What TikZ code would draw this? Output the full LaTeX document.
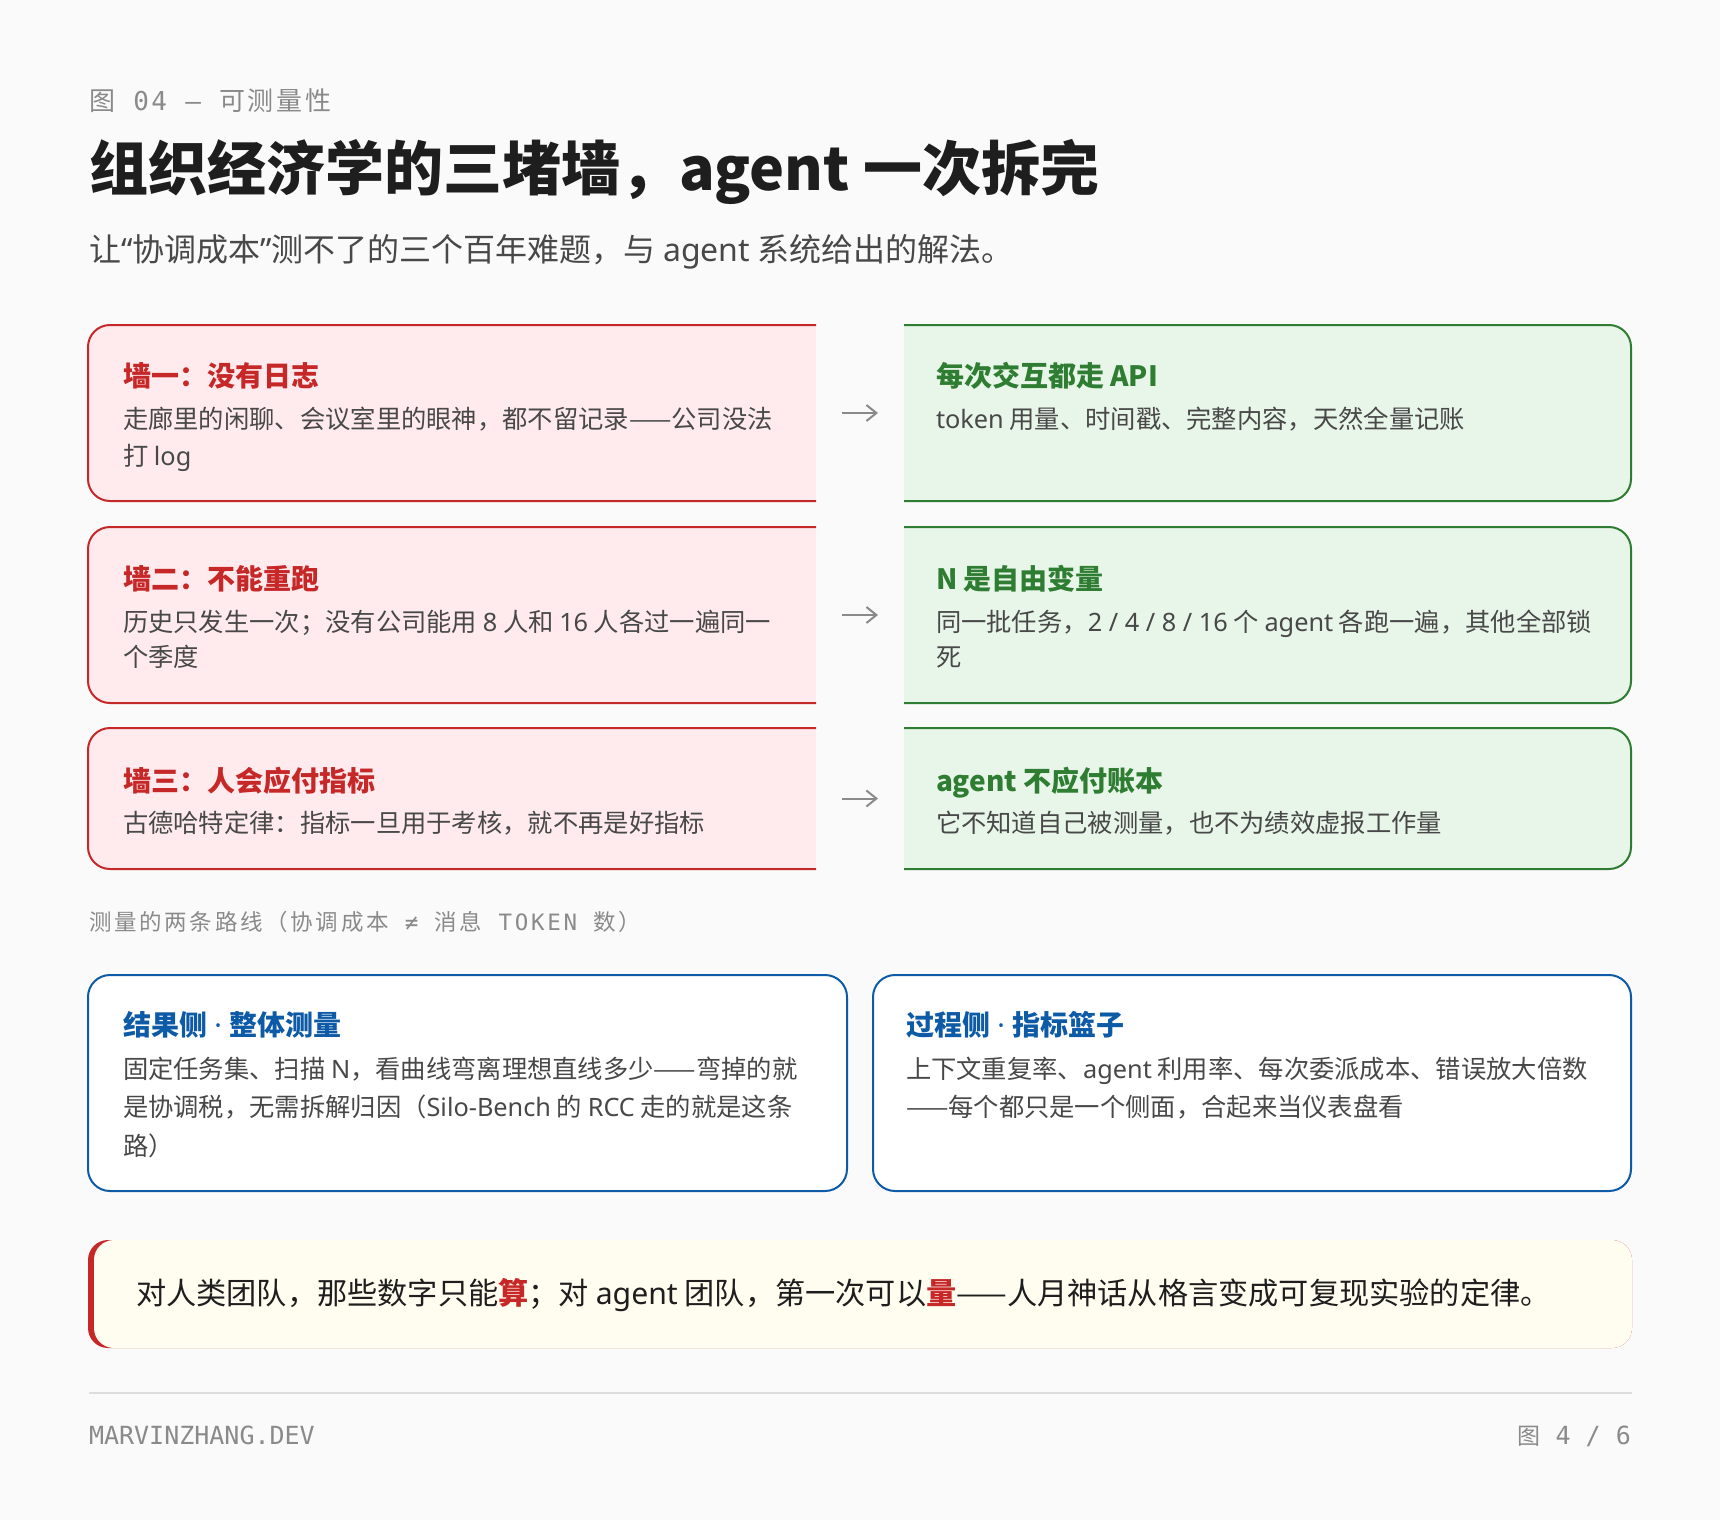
\documentclass[tikz,border=0pt]{standalone}
\usepackage{fontspec}
\setmainfont{Noto Sans CJK SC}
\newfontfamily\ltnf{Noto Sans}
\IfFontExistsTF{Noto Sans Bold}{\newfontfamily\ltbff{Noto Sans Bold}}{\let\ltbff\relax}
\newfontfamily\monof{DejaVu Sans Mono}
\newfontfamily\cjkls{Noto Sans CJK SC}[LetterSpace=10]
\newfontfamily\cjklsb{Noto Sans CJK SC}[LetterSpace=12]
\newfontfamily\monols{DejaVu Sans Mono}[LetterSpace=10]
\newfontfamily\monolsb{DejaVu Sans Mono}[LetterSpace=12]
\newcommand\ltn[1]{{\ltnf #1}}
\newcommand\ltb[1]{{\ltbff #1}}
\newcommand\fsz[1]{\fontsize{#1}{#1}\selectfont}
\usetikzlibrary{arrows.meta}
\definecolor{bgc}{HTML}{FAFAFA}
\definecolor{capgray}{HTML}{8A8A8A}
\definecolor{titlec}{HTML}{1E1E1E}
\definecolor{subc}{HTML}{484848}
\definecolor{bodyc}{HTML}{484848}
\definecolor{redc}{HTML}{C62828}
\definecolor{redfill}{HTML}{FFEBEE}
\definecolor{greenc}{HTML}{2E7D32}
\definecolor{greenfill}{HTML}{E8F5E9}
\definecolor{bluec}{HTML}{0D5AA7}
\definecolor{creamc}{HTML}{FFFDF0}
\definecolor{rulec}{HTML}{DDDDDD}
\newcommand\hlr[1]{{\bfseries\color{redc}#1}}
\begin{document}
\begin{tikzpicture}[x=1pt,y=-1pt,
  tx/.style={anchor=base west, inner sep=0pt, outer sep=0pt},
  area/.style={anchor=north west, inner sep=0pt, outer sep=0pt, draw=none},
  rttl/.style={tx, text=redc, font=\bfseries\fsz{28}},
  gttl/.style={tx, text=greenc, font=\bfseries\fsz{28}},
  bttl/.style={tx, text=bluec, font=\bfseries\fsz{28}},
  body/.style={tx, text=bodyc, font=\fsz{25.3}},
  redbox/.style={fill=redfill, draw=redc, line width=2pt, rounded corners=22pt},
  greenbox/.style={fill=greenfill, draw=greenc, line width=2pt, rounded corners=22pt},
  bluebox/.style={fill=white, draw=bluec, line width=2pt, rounded corners=22pt},
  arr/.style={draw=capgray, line width=2pt, shorten <=26pt, shorten >=26pt,
    -{Straight Barb[length=10pt,width=16pt]}}
]
\fill[bgc] (0,0) rectangle (1720,1520);
\useasboundingbox (0,0) rectangle (1720,1520);

% header
\node[tx, text=capgray, font=\fsz{26}] (cap) at (89,110) {\cjkls 图{\monols\ 04 – }可测量性};
\node[tx, text=titlec, font=\bfseries\fsz{59}] (title) at (89,190) {组织经济学的三堵墙，\ltb{agent} 一次拆完};
\node[tx, text=subc, font=\fsz{32}] (sub) at (89,261) {让\ltn{“}协调成本\ltn{”}测不了的三个百年难题，与 \ltn{agent} 系统给出的解法。};

% panel areas
\node[area, minimum width=728pt, minimum height=176pt] (r1) at (88,325) {};
\node[area, minimum width=727pt, minimum height=176pt] (g1) at (904,325) {};
\node[area, minimum width=728pt, minimum height=176pt] (r2) at (88,527) {};
\node[area, minimum width=727pt, minimum height=176pt] (g2) at (904,527) {};
\node[area, minimum width=728pt, minimum height=141pt] (r3) at (88,728) {};
\node[area, minimum width=727pt, minimum height=141pt] (g3) at (904,728) {};

\foreach \n in {r1,r2,r3}{
  \begin{scope}
    \clip ([xshift=-4pt,yshift=4pt]\n.north west) rectangle ([yshift=-4pt]\n.south east);
    \path[redbox] (\n.north west) rectangle ([xshift=40pt]\n.south east);
  \end{scope}
}
\foreach \n in {g1,g2,g3}{
  \begin{scope}
    \clip ([yshift=4pt]\n.north west) rectangle ([xshift=4pt,yshift=-4pt]\n.south east);
    \path[greenbox] ([xshift=-40pt]\n.north west) rectangle (\n.south east);
  \end{scope}
}

% row 1
\node[rttl] (r1t) at (123,386) {墙一：没有日志};
\node[body] (r1a) at (123,428.5) {走廊里的闲聊、会议室里的眼神，都不留记录——公司没法};
\node[body] (r1b) at (123,465) {打 \ltn{log}};
\node[gttl] (g1t) at (936,386) {每次交互都走 \ltb{API}};
\node[body] (g1a) at (936,428.5) {\ltn{token} 用量、时间戳、完整内容，天然全量记账};

% row 2
\node[rttl] (r2t) at (123,589) {墙二：不能重跑};
\node[body] (r2a) at (123,631.5) {历史只发生一次；没有公司能用 \ltn{8} 人和 \ltn{16} 人各过一遍同一};
\node[body] (r2b) at (123,666.5) {个季度};
\node[gttl] (g2t) at (936,589) {\ltb{N} 是自由变量};
\node[body] (g2a) at (936,631.5) {同一批任务，\ltn{2 / 4 / 8 / 16} 个 \ltn{agent} 各跑一遍，其他全部锁};
\node[body] (g2b) at (936,666.5) {死};

% row 3
\node[rttl] (r3t) at (123,791) {墙三：人会应付指标};
\node[body] (r3a) at (123,832.5) {古德哈特定律：指标一旦用于考核，就不再是好指标};
\node[gttl] (g3t) at (936,791) {\ltb{agent} 不应付账本};
\node[body] (g3a) at (936,832.5) {它不知道自己被测量，也不为绩效虚报工作量};

% arrows
\draw[arr] (r1) -- (g1);
\draw[arr] (r2) -- (g2);
\draw[arr] (r3) -- (g3);

% section label
\node[tx, text=capgray, font=\fsz{22.5}] (sec) at (89,930) {\cjklsb 测量的两条路线（协调成本{\monolsb\ ≠ }消息{\monolsb\ TOKEN }数）};

% blue panels
\node[area, minimum width=759pt, minimum height=216pt] (b1) at (88,975) {};
\node[area, minimum width=758pt, minimum height=216pt] (b2) at (873,975) {};
\path[bluebox] (b1.north west) rectangle (b1.south east);
\path[bluebox] (b2.north west) rectangle (b2.south east);
\node[bttl] (b1t) at (123,1035) {结果侧\ltn{ · }整体测量};
\node[body] (b1a) at (123,1078) {固定任务集、扫描 \ltn{N}，看曲线弯离理想直线多少——弯掉的就};
\node[body] (b1b) at (123,1116.5) {是协调税，无需拆解归因（\ltn{Silo-Bench} 的 \ltn{RCC} 走的就是这条};
\node[body] (b1c) at (123,1155) {路）};
\node[bttl] (b2t) at (906,1035) {过程侧\ltn{ · }指标篮子};
\node[body] (b2a) at (906,1078) {上下文重复率、\ltn{agent} 利用率、每次委派成本、错误放大倍数};
\node[body] (b2b) at (906,1116.5) {——每个都只是一个侧面，合起来当仪表盘看};

% callout
\node[area, minimum width=1544pt, minimum height=108pt] (co) at (88,1240) {};
\fill[redc, rounded corners=20pt] (co.north west) rectangle (co.south east);
\fill[creamc, rounded corners=20pt] ([xshift=6pt]co.north west) rectangle (co.south east);
\node[tx, text=titlec, font=\fsz{30.2}] (quote) at (136,1304) {对人类团队，那些数字只能\hlr{算}；对 \ltn{agent} 团队，第一次可以\hlr{量}——人月神话从格言变成可复现实验的定律。};

% footer
\draw[rulec, line width=2pt] (89,1393) -- (1632,1393);
\node[tx, text=capgray, font=\monof\fsz{25}] (site) at (89,1444) {MARVINZHANG.DEV};
\node[anchor=base east, inner sep=0pt, text=capgray] (page) at (1631,1444) {{\fsz{23}图}{\monof\fsz{25}\ 4 / 6}};
\end{tikzpicture}
\end{document}
